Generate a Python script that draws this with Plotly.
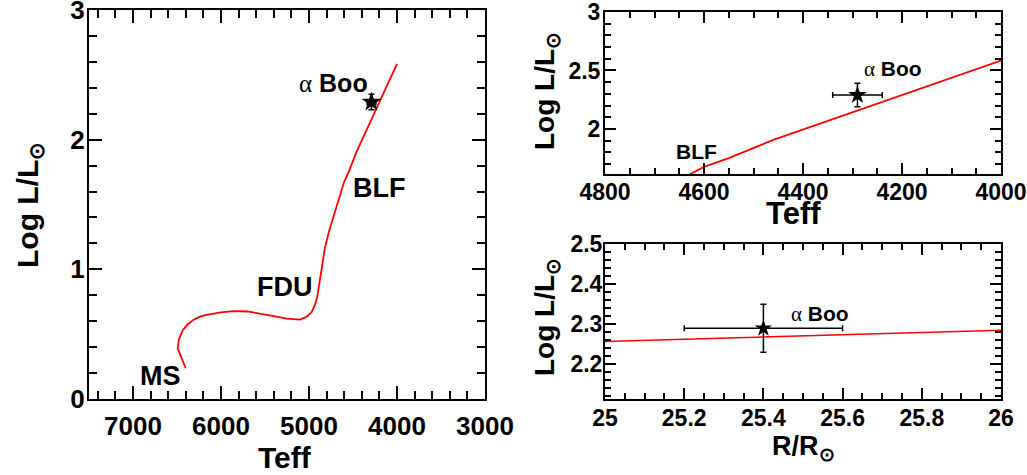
import plotly.graph_objects as go

# ---- data ----
track_teff = [6401, 6440, 6475, 6492, 6480, 6435, 6380, 6315, 6240, 6163, 6000, 5860, 5700, 5557,
              5400, 5250, 5178, 5100, 5026, 4970, 4932, 4905, 4894, 4880, 4867, 4840, 4818, 4770,
              4724, 4680, 4640, 4600, 4560, 4590, 4550, 4460, 4400, 4271, 4200, 4000]
track_logl = [0.237, 0.30, 0.35, 0.39, 0.455, 0.53, 0.575, 0.61, 0.635, 0.648, 0.668, 0.678, 0.675, 0.66,
              0.64, 0.62, 0.614, 0.612, 0.635, 0.67, 0.725, 0.79, 0.84, 0.90, 0.97, 1.08, 1.17, 1.30,
              1.405, 1.50, 1.585, 1.675, 1.735, 1.69, 1.75, 1.906, 1.994, 2.186, 2.29, 2.585]

radius_line = [25.0, 26.0]
logl_radius_line = [2.257, 2.285]

star_teff = [4290]
star_teff_err = [50]
star_logl = [2.29]
star_logl_err_left = [0.06]
star_logl_err_top = [0.1]
star_radius = [25.4]
star_radius_err = [0.2]
star_logl_err_bottom = [0.06]

FONT = "Liberation Sans"
W, H = 1027, 475

fig = go.Figure()

fig.add_trace(go.Scatter(x=track_teff, y=track_logl, mode="lines",
                         line=dict(color="#ff0000", width=1.8), xaxis="x", yaxis="y"))
fig.add_trace(go.Scatter(x=star_teff, y=star_logl, mode="markers",
                         marker=dict(symbol="star", size=15, color="black"),
                         error_x=dict(type="data", array=star_teff_err, color="black", thickness=1.5, width=3),
                         error_y=dict(type="data", array=star_logl_err_left, color="black", thickness=1.5, width=3),
                         xaxis="x", yaxis="y"))
fig.add_trace(go.Scatter(x=track_teff, y=track_logl, mode="lines",
                         line=dict(color="#ff0000", width=1.8), xaxis="x2", yaxis="y2"))
fig.add_trace(go.Scatter(x=star_teff, y=star_logl, mode="markers",
                         marker=dict(symbol="star", size=14, color="black"),
                         error_x=dict(type="data", array=star_teff_err, color="black", thickness=1.5, width=3),
                         error_y=dict(type="data", array=star_logl_err_top, color="black", thickness=1.5, width=3),
                         xaxis="x2", yaxis="y2"))
fig.add_trace(go.Scatter(x=radius_line, y=logl_radius_line, mode="lines",
                         line=dict(color="#ff0000", width=1.5), xaxis="x3", yaxis="y3"))
fig.add_trace(go.Scatter(x=star_radius, y=star_logl, mode="markers",
                         marker=dict(symbol="star", size=13, color="black"),
                         error_x=dict(type="data", array=star_radius_err, color="black", thickness=1.5, width=3),
                         error_y=dict(type="data", array=star_logl_err_bottom, color="black", thickness=1.5, width=3),
                         xaxis="x3", yaxis="y3"))


def ax(domain, rng, tick0, dtick, minor_dtick, size, tl, mtl, anchor, standoff, fmt=None):
    d = dict(domain=domain, range=rng, tickmode="linear", tick0=tick0, dtick=dtick,
             showline=True, linecolor="black", linewidth=2, mirror="allticks",
             ticks="inside", ticklen=tl, tickwidth=2, tickcolor="black",
             showgrid=False, zeroline=False, anchor=anchor, automargin=False,
             ticklabelstandoff=standoff, ticklabeloverflow="allow",
             tickfont=dict(family=FONT, size=size, color="black", weight="bold"),
             minor=dict(ticks="inside", ticklen=mtl, tickwidth=1.5, tickcolor="black",
                        dtick=minor_dtick, tick0=tick0, showgrid=False))
    if fmt is not None:
        d["tickformat"] = fmt
    return d


def px(x):
    return x / W


def py(y):
    return 1 - y / H


fig.update_layout(
    width=W, height=H, margin=dict(l=0, r=0, t=0, b=0),
    paper_bgcolor="white", plot_bgcolor="white", showlegend=False,
    xaxis=ax([px(89), px(485)], [7500, 3000], 3000, 1000, 200, 26, 13, 8, "y", 3),
    yaxis=ax([py(399), py(10)], [0, 3.0001], 0, 1, 0.2, 26, 13, 8, "x", -3),
    xaxis2=ax([px(605), px(1001)], [4800, 4000], 4000, 200, 50, 23, 11, 6, "y2", -4),
    yaxis2=ax([py(174), py(12)], [1.614, 3.0001], 2, 0.5, 0.1, 23, 11, 6, "x2", -2),
    xaxis3=ax([px(605), px(1001)], [25, 26], 25, 0.2, 0.05, 23, 11, 6, "y3", -3),
    yaxis3=ax([py(399), py(244)], [2.1137, 2.5001], 2.2, 0.1, 0.02, 23, 11, 6, "x3", -4, ".1f"),
)

ALPHA = "<span style='font-family:Liberation Serif;font-weight:normal'>α</span> <b>Boo</b>"
annots = [
    dict(text="<b>Log L/L<sub>⊙</sub></b>", x=px(29), y=py(205), xref="paper", yref="paper",
         textangle=-90, size=30),
    dict(text="<b>Teff</b>", x=px(285), y=py(457), xref="paper", yref="paper", textangle=0, size=30),
    dict(text="<b>Log L/L<sub>⊙</sub></b>", x=px(546), y=py(91), xref="paper", yref="paper",
         textangle=-90, size=28),
    dict(text="<b>Teff</b>", x=px(793), y=py(213), xref="paper", yref="paper", textangle=0, size=31),
    dict(text="<b>Log L/L<sub>⊙</sub></b>", x=px(546), y=py(317), xref="paper", yref="paper",
         textangle=-90, size=28),
    dict(text="<b>R/R<sub>⊙</sub></b>", x=px(803), y=py(448), xref="paper", yref="paper",
         textangle=0, size=27),
    dict(text=ALPHA, x=4716, y=2.44, xref="x", yref="y", textangle=0, size=25),
    dict(text="<b>BLF</b>", x=4205, y=1.63, xref="x", yref="y", textangle=0, size=27),
    dict(text="<b>FDU</b>", x=5278, y=0.866, xref="x", yref="y", textangle=0, size=27),
    dict(text="<b>MS</b>", x=6682, y=0.177, xref="x", yref="y", textangle=0, size=27),
    dict(text=ALPHA, x=4218, y=2.514, xref="x2", yref="y2", textangle=0, size=21),
    dict(text="<b>BLF</b>", x=4615, y=1.805, xref="x2", yref="y2", textangle=0, size=21),
    dict(text=ALPHA, x=25.542, y=2.326, xref="x3", yref="y3", textangle=0, size=21),
]
for a in annots:
    fig.add_annotation(text=a["text"], x=a["x"], y=a["y"], xref=a["xref"], yref=a["yref"],
                       textangle=a["textangle"], showarrow=False, xanchor="center", yanchor="middle",
                       font=dict(family=FONT, size=a["size"], color="black"))

fig.write_html("out.html", post_script="document.body.style.margin='0px';",
               config={"displayModeBar": False})
